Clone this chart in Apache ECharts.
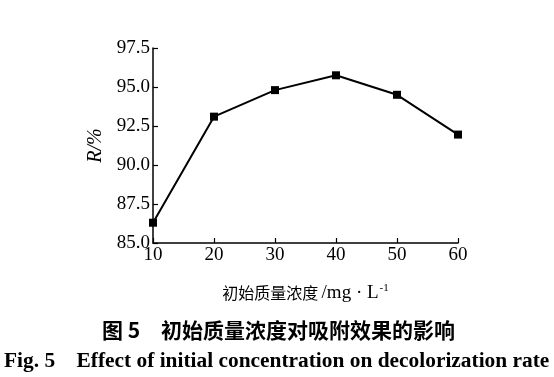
<!DOCTYPE html>
<html>
<head>
<meta charset="utf-8">
<script src="https://cdn.jsdelivr.net/npm/echarts@6/dist/echarts.min.js"></script>
<style>
  html, body { margin: 0; padding: 0; background: #fff; }
  #chart { width: 554px; height: 377px; }
</style>
</head>
<body>
<div id="chart"></div>
<script>
// initial concentration (mg/L) vs decolorization rate R (%)
const concentrations = [10, 20, 30, 40, 50, 60];
const rates = [86.3, 93.1, 94.8, 95.75, 94.5, 91.95];
const yTicks = [85.0, 87.5, 90.0, 92.5, 95.0, 97.5];

const serif = '"Liberation Serif", "DejaVu Serif", serif';
const cjk = '"Noto Sans CJK SC", serif';

let chart = echarts.init(document.getElementById('chart'));
chart.setOption({
  animation: false,
  backgroundColor: '#fff',
  grid: { left: 153, right: 96, top: 48, bottom: 134 },
  xAxis: {
    type: 'value',
    min: 10,
    max: 60,
    interval: 10,
    axisLine: { lineStyle: { color: '#000', width: 1.5 } },
    axisTick: { inside: true, length: 5, lineStyle: { color: '#000', width: 1.2 } },
    splitLine: { show: false },
    axisLabel: { color: '#000', fontFamily: serif, fontSize: 19, margin: 3 },
    name: '{c|初始质量浓度} {t|/mg · L}{s|-1}',
    nameLocation: 'middle',
    nameGap: 40,
    nameTextStyle: {
      rich: {
        c: { fontFamily: cjk, fontSize: 16, color: '#000' },
        t: { fontFamily: serif, fontSize: 19, color: '#000' },
        s: { fontFamily: serif, fontSize: 11, color: '#000', verticalAlign: 'top', padding: [0, 0, 9, 1] }
      }
    }
  },
  yAxis: {
    type: 'value',
    min: 85,
    max: 97.5,
    interval: 2.5,
    axisLine: { show: true, lineStyle: { color: '#000', width: 1.5 } },
    axisTick: { show: true, inside: true, length: 5, lineStyle: { color: '#000', width: 1.2 } },
    splitLine: { show: false },
    axisLabel: {
      color: '#000', fontFamily: serif, fontSize: 19, margin: 3,
      formatter: v => yTicks.indexOf(v) >= 0 ? v.toFixed(1) : ''
    },
    name: '{i|R}{n|/%}',
    nameLocation: 'middle',
    nameGap: 47,
    nameRotate: 90,
    nameTextStyle: {
      rich: {
        i: { fontFamily: serif, fontStyle: 'italic', fontSize: 20, color: '#000' },
        n: { fontFamily: serif, fontStyle: 'italic', fontSize: 20, color: '#000' }
      }
    }
  },
  series: [{
    type: 'line',
    data: concentrations.map((c, i) => [c, rates[i]]),
    symbol: 'rect',
    symbolSize: 8,
    lineStyle: { color: '#000', width: 2 },
    itemStyle: { color: '#000' }
  }],
  graphic: [
    {
      type: 'text', left: 102, top: 320,
      style: { text: '图 5', font: 'bold 21px ' + cjk, fill: '#000' }
    },
    {
      type: 'text', left: 161, top: 320,
      style: { text: '初始质量浓度对吸附效果的影响', font: 'bold 21px ' + cjk, fill: '#000' }
    },
    {
      type: 'text', left: 4, top: 351,
      style: { text: 'Fig. 5    Effect of initial concentration on decolorization rate', font: 'bold 21.4px ' + serif, fill: '#000' }
    }
  ]
});
</script>
</body>
</html>
